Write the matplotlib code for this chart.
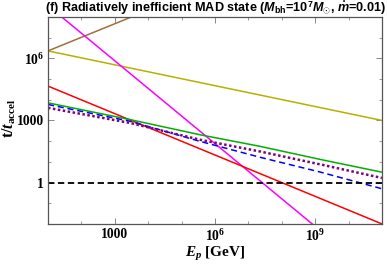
import numpy as np
import matplotlib
matplotlib.use("Agg")
import matplotlib.pyplot as plt
from matplotlib.ticker import FixedLocator, NullFormatter

plt.rcParams['mathtext.fontset'] = 'custom'
plt.rcParams['mathtext.rm'] = 'Liberation Serif:bold'
plt.rcParams['mathtext.it'] = 'Liberation Serif:italic:bold'
plt.rcParams['mathtext.sf'] = 'Liberation Sans:italic:bold'
plt.rcParams['mathtext.bf'] = 'Liberation Sans:bold'

# (E_p in GeV, t/t_accel)
E_pts = [10, 2.85e3, 3.55e5, 2.24e7, 1.38e9, 1e11]
green = [7080, 1100, 204, 56, 13.2, 3.16]
purple = [4070, 759, 117, 31.6, 7.6, 1.66]
blue = [5890, 912, 98, 16.6, 3.24, 0.50]

red_E = [10, 1e11]
red = [4.57e4, 0.01]
yellow_E = [10, 1e11]
yellow = [2.29e6, 1000]
brown_E = [10, 3.16e3]
brown = [2.29e6, 1e8]
magenta_E = [20, 1e9]
magenta = [1.4e8, 7.6e-3]

xticks = [1e3, 1e6, 1e9]
xticklabels = ['1000', r'$10^{6}$', r'$10^{9}$']
yticks = [1, 1e3, 1e6]
yticklabels = ['1', '1000', r'$10^{6}$']

fig = plt.figure(figsize=(3.87, 2.65), dpi=100)
ax = fig.add_axes([0.124, 0.155, 0.863, 0.781])

ax.plot(brown_E, brown, color='#a0703c', lw=1.1)
ax.plot(yellow_E, yellow, color='#b8b000', lw=1.1)
ax.plot(magenta_E, magenta, color='#ff00ff', lw=1.1)
ax.plot(red_E, red, color='#ff0000', lw=1.1)
ax.plot(E_pts, green, color='#00b000', lw=1.1)
ax.plot(E_pts, blue, color='#0000ff', lw=1.1, ls=(0, (4, 2.5)))
ax.plot(E_pts, purple, color='#800080', lw=1.8, ls=(0, (1, 1)))
ax.axhline(1, color='black', lw=1.3, ls=(0, (3.5, 2)))

ax.set_xscale('log')
ax.set_yscale('log')
ax.set_xlim(10, 1e11)
ax.set_ylim(1e-2, 1e8)

ax.xaxis.set_major_locator(FixedLocator(xticks))
ax.set_xticklabels(xticklabels)
ax.xaxis.set_minor_locator(FixedLocator([10.0**k for k in range(1, 12)]))
ax.xaxis.set_minor_formatter(NullFormatter())
ax.yaxis.set_major_locator(FixedLocator(yticks))
ax.set_yticklabels(yticklabels)
ax.yaxis.set_minor_locator(FixedLocator([10.0**k for k in range(-2, 9)]))
ax.yaxis.set_minor_formatter(NullFormatter())

for lab in ax.get_xticklabels() + ax.get_yticklabels():
    lab.set_family('Liberation Serif')
    lab.set_weight('bold')
    lab.set_fontsize(9.8)

ax.tick_params(which='both', direction='in', top=True, right=True,
               color='#888888', pad=3)
ax.tick_params(which='major', length=4.5, width=0.7)
ax.tick_params(which='minor', length=2.5, width=0.6)
for s in ax.spines.values():
    s.set_color('#555555')
    s.set_linewidth(0.9)

ax.set_xlabel(r'$E_p$ [GeV]', family='Liberation Serif', weight='bold',
              fontsize=11)
ax.xaxis.set_label_coords(0.5, -0.1)
ax.set_ylabel(r't/$t_{\rm accel}$', family='Liberation Serif', weight='bold',
              fontsize=11.5)
ax.yaxis.set_label_coords(-0.09, 0.51)
ax.set_title(r'(f) Radiatively inefficient MAD state ($\mathsf{M}_{\mathbf{bh}}$=$\mathbf{10}^{\mathbf{7}}$$\mathsf{M}_{\odot}$, $\dot{\mathsf{m}}$=0.01)',
             family='Liberation Sans', weight='bold', fontsize=9.1, pad=3)

fig.savefig('out.png', dpi=100)
